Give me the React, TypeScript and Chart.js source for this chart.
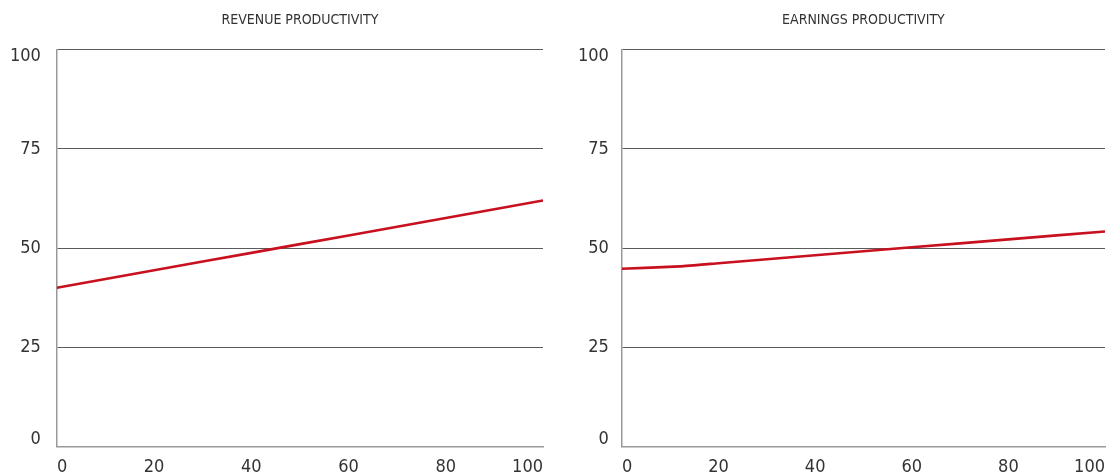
import React, { useEffect, useRef } from "react";
import { Chart, registerables } from "chart.js";

Chart.register(...registerables);

const titles = ["REVENUE PRODUCTIVITY", "EARNINGS PRODUCTIVITY"];
const xTickValues = [0, 20, 40, 60, 80, 100];
const yTickValues = [0, 25, 50, 75, 100];
const revenueX = [0, 20, 40, 60, 80, 100];
const revenueY = [40, 44.4, 48.8, 53.2, 57.6, 62];
const earningsX = [0, 12, 20, 40, 60, 80, 100];
const earningsY = [44.8, 45.4, 46.2, 48.2, 50.2, 52.2, 54.2];

const FONT = "'Liberation Sans Narrow', 'DejaVu Sans Condensed', 'Arial Narrow', sans-serif";
const RED = "#c8101e";
const H = 488;

type PanelProps = {
  title: string;
  xs: number[];
  ys: number[];
  left: number;
  width: number;
  padLeft: number;
  padRight: number;
  tickPad: number;
};

function Panel({ title, xs, ys, left, width, padLeft, padRight, tickPad }: PanelProps) {
  const ref = useRef<HTMLCanvasElement | null>(null);
  useEffect(() => {
    if (!ref.current) return;
    const chart = new Chart(ref.current, {
      type: "line",
      data: {
        datasets: [
          {
            data: xs.map((x, i) => ({ x, y: ys[i] })),
            borderColor: RED,
            borderWidth: 2.6,
            pointRadius: 0,
            tension: 0.15,
            fill: false,
          },
        ],
      },
      options: {
        animation: false,
        responsive: false,
        maintainAspectRatio: false,
        layout: { padding: { left: padLeft, right: padRight, top: 0, bottom: 0 } },
        plugins: {
          legend: { display: false },
          tooltip: { enabled: false },
          title: {
            display: true,
            text: title,
            fullSize: false,
            color: "#333",
            font: { family: FONT, size: 14, weight: "normal" },
            padding: { top: 12, bottom: 21 },
          },
        },
        scales: {
          x: {
            type: "linear",
            min: 0,
            max: 100,
            afterBuildTicks: (s: any) => {
              s.ticks = xTickValues.map((v) => ({ value: v }));
            },
            grid: { display: false, drawTicks: false },
            border: { display: true, color: "#999", width: 1.5 },
            ticks: {
              align: "inner",
              padding: 10,
              color: "#333",
              font: { family: FONT, size: 18 },
              maxRotation: 0,
              autoSkip: false,
            },
          },
          y: {
            type: "linear",
            min: 0,
            max: 100,
            afterBuildTicks: (s: any) => {
              s.ticks = yTickValues.map((v) => ({ value: v }));
            },
            grid: {
              display: true,
              drawTicks: false,
              color: (ctx: any) => (ctx.tick && ctx.tick.value === 0 ? "rgba(0,0,0,0)" : "#5a5a5a"),
              lineWidth: 1,
            },
            border: { display: true, color: "#999", width: 1.5 },
            ticks: {
              padding: tickPad,
              color: "#333",
              font: { family: FONT, size: 18, lineHeight: 0.75 },
              callback: (v: any) =>
                v === 100 ? ["", "100"] : v === 0 ? ["0", ""] : String(v),
            },
          },
        },
      },
    });
    return () => chart.destroy();
  }, []);
  return (
    <div style={{ position: "absolute", left, top: 0, width, height: H }}>
      <canvas ref={ref} width={width} height={H} style={{ width, height: H, display: "block" }} />
    </div>
  );
}

export default function App() {
  return (
    <div style={{ position: "absolute", left: 0, top: 0, width: 1107, height: 475, background: "#fff", overflow: "hidden" }}>
      <Panel title={titles[0]} xs={revenueX} ys={revenueY} left={-16} width={569} padLeft={10} padRight={10} tickPad={16} />
      <Panel title={titles[1]} xs={earningsX} ys={earningsY} left={548} width={567} padLeft={17} padRight={2} tickPad={13} />
    </div>
  );
}
